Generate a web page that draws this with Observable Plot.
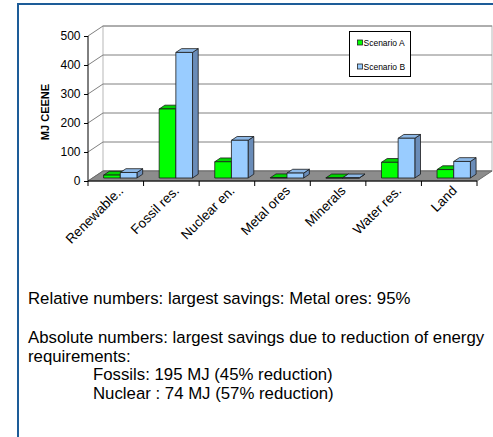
<!DOCTYPE html>
<html>
<head>
<meta charset="utf-8">
<script src="https://cdn.jsdelivr.net/npm/d3@7"></script>
<script src="https://cdn.jsdelivr.net/npm/@observablehq/plot@0.6"></script>
<style>
  body { margin: 0; background: #fff; font-family: Arial, "Liberation Sans", sans-serif; }
  #frame { position: absolute; left: 17px; top: 3px; width: 480px; height: 440px;
           border-left: 2px solid #1d5c98; border-top: 2px solid #1d5c98; }
  #chart { position: absolute; left: 0; top: 0; }
  #notes { position: absolute; left: 28px; top: 290px; font-size: 16.8px; line-height: 18.5px; color: #000; white-space: nowrap; }
  #notes p { margin: 0; }
  #notes .gap { height: 20.5px; }
  #notes .indent { padding-left: 65px; }
</style>
</head>
<body>
<div id="frame"></div>
<div id="chart"></div>
<div id="notes">
  <p>Relative numbers: largest savings: Metal ores: 95%</p>
  <div class="gap"></div>
  <p>Absolute numbers: largest savings due to reduction of energy</p>
  <p>requirements:</p>
  <p class="indent">Fossils: 195 MJ (45% reduction)</p>
  <p class="indent">Nuclear : 74 MJ (57% reduction)</p>
</div>
<script>
// Resource categories and CEENE values (MJ) per scenario
const categories = ["Renewable..", "Fossil res.", "Nuclear en.", "Metal ores", "Minerals", "Water res.", "Land"];
const scenarioA = [10, 238, 56, 1, 0.5, 54, 29];
const scenarioB = [19, 433, 130, 17, 0.5, 137, 57];
const seriesNames = ["Scenario A", "Scenario B"];
const yTicks = [0, 100, 200, 300, 400, 500];

// face colours per series: front, top, side
const seriesColors = [
  {front: "#00ff00", top: "#00d400", side: "#009a00"},
  {front: "#99ccff", top: "#8db8e6", side: "#6a8cb8"}
];

const rows = categories.flatMap((category, i) => [
  {category, series: 0, value: scenarioA[i]},
  {category, series: 1, value: scenarioB[i]}
]);

// depth of the 3-D box (pixels) and the slab occupied by the bars
const DX = 15, DY = -10, T0 = 0.3, T1 = 0.68;

function scene(index, scales, values, dims) {
  const sx = scales.x, sy = scales.y;
  const bw = typeof sx.bandwidth === "function" ? sx.bandwidth() : scales.scales.x.bandwidth;
  const xl = dims.marginLeft, xr = dims.width - dims.marginRight;
  const y0 = sy(0), yTop = sy(d3.max(yTicks));
  const g = d3.create("svg:g");

  // back wall
  g.append("rect")
    .attr("x", xl + DX).attr("y", yTop + DY)
    .attr("width", xr - xl).attr("height", y0 - yTop)
    .attr("fill", "#fff").attr("stroke", "#b8b8b8");

  // gridlines across the side and back walls
  for (const t of yTicks) {
    const y = sy(t);
    g.append("path")
      .attr("d", `M${xl},${y}L${xl + DX},${y + DY}H${xr + DX}`)
      .attr("fill", "none").attr("stroke", "#808080");
  }

  // floor
  g.append("path")
    .attr("d", `M${xl},${y0}H${xr}L${xr + DX},${y0 + DY}H${xl + DX}Z`)
    .attr("fill", "#8c8c8c").attr("stroke", "#6a6a6a");

  // front axis lines and category boundary ticks
  g.append("path")
    .attr("d", `M${xl},${yTop}V${y0}H${xr}`)
    .attr("fill", "none").attr("stroke", "#000");
  for (let i = 0; i <= categories.length; i++) {
    const x = xl + i * bw;
    g.append("line").attr("x1", x).attr("x2", x).attr("y1", y0).attr("y2", y0 + 5).attr("stroke", "#000");
  }

  // bars
  const barW = bw * 0.3;
  const ox0 = DX * T0, oy0 = DY * T0, ox1 = DX * T1, oy1 = DY * T1;
  for (const r of rows) {
    const c = seriesColors[r.series];
    const x0 = sx(r.category) + (bw - 2 * barW) / 2 + r.series * barW;
    const x1 = x0 + barW;
    const yv = sy(r.value);
    const bar = g.append("g").attr("stroke", "#1a1a1a").attr("stroke-width", 0.8).attr("stroke-linejoin", "round");
    bar.append("path").attr("fill", c.side)
      .attr("d", `M${x1 + ox0},${yv + oy0}L${x1 + ox1},${yv + oy1}L${x1 + ox1},${y0 + oy1}L${x1 + ox0},${y0 + oy0}Z`);
    bar.append("path").attr("fill", c.top)
      .attr("d", `M${x0 + ox0},${yv + oy0}L${x1 + ox0},${yv + oy0}L${x1 + ox1},${yv + oy1}L${x0 + ox1},${yv + oy1}Z`);
    bar.append("path").attr("fill", c.front)
      .attr("d", `M${x0 + ox0},${yv + oy0}H${x1 + ox0}V${y0 + oy0}H${x0 + ox0}Z`);
  }

  // legend
  const lg = g.append("g").attr("text-anchor", "start");
  lg.append("rect").attr("x", 349.5).attr("y", 31.5).attr("width", 61).attr("height", 45)
    .attr("fill", "#fff").attr("stroke", "#000");
  seriesNames.forEach((name, i) => {
    const cy = 42.5 + i * 24;
    lg.append("rect").attr("x", 357.5).attr("y", cy - 2.5).attr("width", 5).attr("height", 5)
      .attr("fill", seriesColors[i].front).attr("stroke", "#222").attr("stroke-width", 0.8);
    lg.append("text").attr("x", 363.5).attr("y", cy + 3).attr("font-size", 8.5)
      .attr("text-anchor", "start").attr("fill", "#000").text(name);
  });
  return g.node();
}

const chart = Plot.plot({
  width: 493,
  height: 275,
  marginLeft: 88,
  marginRight: 16,
  marginTop: 36,
  marginBottom: 94,
  style: {fontFamily: "Arial, 'Liberation Sans', sans-serif", fontSize: "11px", background: "transparent", color: "#000"},
  x: {type: "band", domain: categories, padding: 0, round: false, axis: null},
  y: {domain: [0, 500]},
  marks: [
    scene,
    Plot.axisY({ticks: yTicks, tickSize: 4, tickPadding: 4, fontSize: 12, label: null}),
    Plot.text(categories, {x: d => d, frameAnchor: "bottom", rotate: -45, textAnchor: "end",
                           lineAnchor: "bottom", dx: 8, dy: 10, fontSize: 13.5, fill: "#000"}),
    Plot.text(["MJ CEENE"], {frameAnchor: "left", rotate: -90, textAnchor: "middle", lineAnchor: "middle",
                             dx: -43, dy: 3, fontWeight: "bold", fontSize: 11, fill: "#000"})
  ]
});
document.getElementById("chart").append(chart);
</script>
</body>
</html>
